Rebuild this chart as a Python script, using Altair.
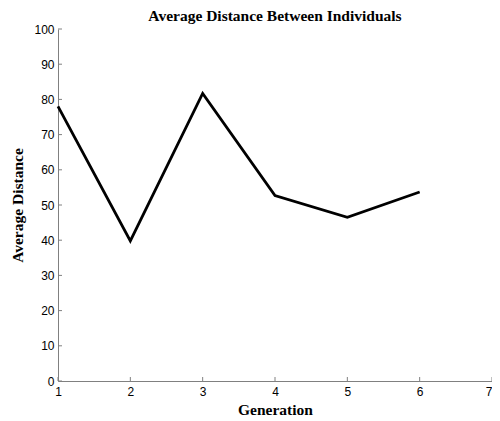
import altair as alt
import pandas as pd

generations = [1, 2, 3, 4, 5, 6]
avg_distance = [78.0, 39.8, 81.7, 52.7, 46.5, 53.7]
x_ticks = [1, 2, 3, 4, 5, 6, 7]
y_ticks = [0, 10, 20, 30, 40, 50, 60, 70, 80, 90, 100]

W, H = 434, 352
df = pd.DataFrame({"gen": generations, "dist": avg_distance})
xt = pd.DataFrame({"v": x_ticks})
yt = pd.DataFrame({"v": y_ticks})

xscale = alt.Scale(domain=[1, 7], nice=False, zero=False)
yscale = alt.Scale(domain=[0, 100], nice=False)

xaxis = alt.Axis(values=x_ticks, ticks=False, grid=False, domainColor="#808080",
                 labelFont="Liberation Sans", labelFontSize=12, labelColor="black",
                 labelPadding=5, title="Generation", titleFont="Liberation Serif",
                 titleFontSize=15.5, titleFontWeight="bold", titleColor="black",
                 titlePadding=5, format="d", labelFlush=False, labelOverlap=False,
                 labelAlign=alt.ExprRef(expr="datum.value == 7 ? 'right' : 'center'"))
yaxis = alt.Axis(values=y_ticks, ticks=False, grid=False, domainColor="#808080",
                 labelFont="Liberation Sans", labelFontSize=12, labelColor="black",
                 labelPadding=4, title="Average Distance", titleFont="Liberation Serif",
                 titleFontSize=15.5, titleFontWeight="bold", titleColor="black",
                 titlePadding=8, format="d", labelFlush=False, labelOverlap=False)

line = alt.Chart(df).mark_line(color="black", strokeWidth=2.8).encode(
    x=alt.X("gen:Q", scale=xscale, axis=xaxis),
    y=alt.Y("dist:Q", scale=yscale, axis=yaxis),
)

xtick_marks = alt.Chart(xt).mark_rule(color="#808080", strokeWidth=1).encode(
    x=alt.X("v:Q", scale=xscale, axis=xaxis),
    y=alt.value(H), y2=alt.value(H - 4),
)
ytick_marks = alt.Chart(yt).mark_rule(color="#808080", strokeWidth=1).encode(
    y=alt.Y("v:Q", scale=yscale, axis=yaxis),
    x=alt.value(0), x2=alt.value(4),
)

chart = alt.layer(line, xtick_marks, ytick_marks).properties(
    width=W, height=H,
    title=alt.Title("Average Distance Between Individuals", font="Liberation Serif",
                    fontSize=15.5, fontWeight="bold", color="black", offset=-1),
    autosize=alt.AutoSizeParams(type="none"),
    padding={"left": 50, "top": 21, "right": 0, "bottom": 40},
).configure_view(stroke=None)

chart.save("out.html", embed_options={"renderer": "svg", "actions": False})
